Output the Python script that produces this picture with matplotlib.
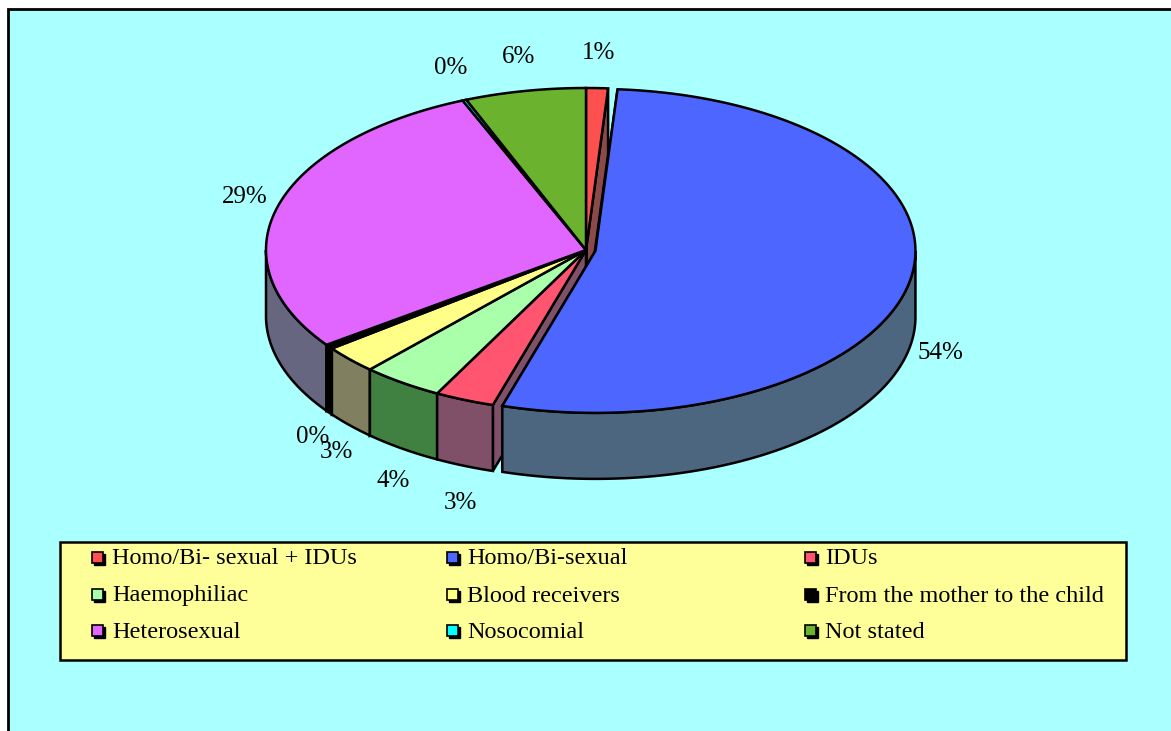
import numpy as np
import matplotlib.pyplot as plt
from matplotlib.patches import Polygon, Rectangle

categories = ['Homo/Bi- sexual + IDUs', 'Homo/Bi-sexual', 'IDUs',
              'Haemophiliac', 'Blood receivers', 'From the mother to the child',
              'Heterosexual', 'Nosocomial', 'Not stated']
values = [1.1, 53.6, 3.0, 4.1, 2.8, 0.45, 28.65, 0.2, 6.1]
top_colors = ['#FF5050', '#4D66FF', '#FF5570', '#AAFFAA', '#FFFF88',
              '#000000', '#E066FF', '#00FFFF', '#6BB22E']
side_colors = ['#8A4A4A', '#4D6680', '#805068', '#408040', '#808060',
               '#000000', '#666680', '#008080', '#3F6F20']
explode = [0, 0.03, 0, 0, 0, 0, 0, 0, 0]

FONT = ['Liberation Serif', 'DejaVu Serif']

# pie geometry in pixels (y grows downwards)
cx, cy = 586, 250
rx, ry = 320, 162
depth = 66


def rim(theta, ox=0, oy=0, dz=0):
    t = np.radians(theta)
    return np.column_stack([cx + ox + rx * np.cos(t), cy + oy - ry * np.sin(t) + dz])


fig = plt.figure(figsize=(11.71, 7.31), dpi=100)
fig.patch.set_facecolor('white')
ax = fig.add_axes([0, 0, 1, 1])
ax.set_xlim(0, 1171)
ax.set_ylim(731, 0)
ax.axis('off')

ax.add_patch(Rectangle((8, 9), 1200, 760, facecolor='#AAFFFF', edgecolor='black', lw=2, zorder=0))

total = sum(values)
angles = []
start = 90.0
for v in values:
    span = v / total * 360
    angles.append((start, start - span))
    start -= span

sides = []
tops = []
labels = []
for i, (a0, a1) in enumerate(angles):
    mid = (a0 + a1) / 2
    t = np.radians(mid)
    ox = explode[i] * rx * np.cos(t)
    oy = -explode[i] * ry * np.sin(t)
    n = max(2, int(abs(a0 - a1) * 2))
    arc = rim(np.linspace(a0, a1, n), ox, oy)
    c = np.array([[cx + ox, cy + oy]])
    tops.append((np.vstack([c, arc]), top_colors[i]))

    # radial walls
    for a in (a0, a1):
        p = rim([a], ox, oy)
        wall = np.vstack([c, p, p + [0, depth], c + [0, depth]])
        sides.append((wall[:, 1].mean(), wall, side_colors[i]))

    # outer front side
    lo, hi = max(a1, -180), min(a0, 0)
    if hi > lo:
        fa = np.linspace(hi, lo, max(2, int((hi - lo) * 2)))
        up = rim(fa, ox, oy)
        down = rim(fa[::-1], ox, oy, depth)
        poly = np.vstack([up, down])
        sides.append((poly[:, 1].mean() + 100, poly, side_colors[i]))

    s = np.sin(t)
    gap_x = 35 + 25 * min(s, 0)
    lx = cx + ox + (rx + gap_x) * np.cos(t)
    ly = cy + oy - (ry + (35 if s > 0 else 40)) * s
    if s < 0:
        ly += depth
    labels.append((lx, ly, f"{round(values[i] / total * 100)}%"))

for _, poly, col in sorted(sides, key=lambda s: s[0]):
    ax.add_patch(Polygon(poly, closed=True, facecolor=col, edgecolor='black', lw=1.8, zorder=2))
for poly, col in tops:
    ax.add_patch(Polygon(poly, closed=True, facecolor=col, edgecolor='black', lw=1.8, zorder=3))

for lx, ly, txt in labels:
    ax.text(lx, ly, txt, ha='center', va='center', fontsize=18, family=FONT, zorder=4)

# legend box
ax.add_patch(Rectangle((60, 542), 1066, 118, facecolor='#FFFF99', edgecolor='black', lw=1.8, zorder=5))
col_x = [92, 447, 805]
row_y = [558, 595, 631]
for i, name in enumerate(categories):
    x = col_x[i % 3]
    y = row_y[i // 3]
    ax.add_patch(Rectangle((x + 1.5, y - 4.5), 11, 11, facecolor='black', edgecolor='black', lw=1, zorder=6))
    ax.add_patch(Rectangle((x, y - 6), 11, 11, facecolor=top_colors[i], edgecolor='black', lw=1.2, zorder=7))
    ax.text(x + 20, y + 1, name, ha='left', va='center', fontsize=17.5, family=FONT, zorder=7)

plt.savefig('out.png', dpi=100)
